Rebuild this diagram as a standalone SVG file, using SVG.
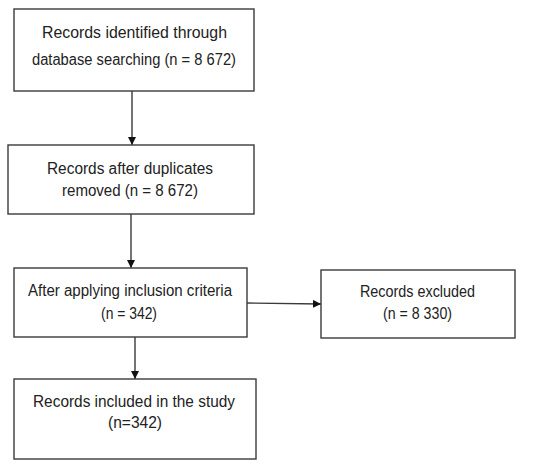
<svg xmlns="http://www.w3.org/2000/svg" width="550" height="468" viewBox="0 0 550 468">
<style>
.box{fill:#fff;stroke:#3a3a3a;stroke-width:1.4}
.t{font-family:"Liberation Sans",Arial,sans-serif;font-size:16px;fill:#222;text-anchor:middle}
.c{stroke:#3a3a3a;stroke-width:1.4;fill:none;marker-end:url(#ah)}
</style>
<defs>
<marker id="ah" viewBox="0 0 10 10" refX="10" refY="5" markerWidth="8" markerHeight="8" markerUnits="userSpaceOnUse" orient="auto">
<path d="M0,0 L10,5 L0,10 Z" fill="#111"/>
</marker>
</defs>
<rect width="550" height="468" fill="#fff"/>
<g id="connectors">
<line class="c" x1="132" y1="91" x2="132" y2="145"/>
<line class="c" x1="131" y1="214" x2="131" y2="268"/>
<line class="c" x1="135" y1="337" x2="135" y2="379"/>
<line class="c" x1="247" y1="303" x2="321" y2="304"/>
</g>
<g id="n1">
<rect class="box" x="14" y="9" width="240" height="82"/>
<text class="t" x="134.5" y="38" textLength="185" lengthAdjust="spacingAndGlyphs">Records identified through</text>
<text class="t" x="134" y="65" textLength="204" lengthAdjust="spacingAndGlyphs">database searching (n = 8 672)</text>
</g>
<g id="n2">
<rect class="box" x="8" y="145" width="246" height="69"/>
<text class="t" x="130" y="174" textLength="166" lengthAdjust="spacingAndGlyphs">Records after duplicates</text>
<text class="t" x="130" y="196" textLength="136" lengthAdjust="spacingAndGlyphs">removed (n = 8 672)</text>
</g>
<g id="n3">
<rect class="box" x="14" y="268" width="233" height="69"/>
<text class="t" x="130" y="296" textLength="204" lengthAdjust="spacingAndGlyphs">After applying inclusion criteria</text>
<text class="t" x="129" y="319" textLength="56" lengthAdjust="spacingAndGlyphs">(n = 342)</text>
</g>
<g id="n4">
<rect class="box" x="321" y="270" width="194" height="68"/>
<text class="t" x="417.5" y="297" textLength="115" lengthAdjust="spacingAndGlyphs">Records excluded</text>
<text class="t" x="417.5" y="319" textLength="69" lengthAdjust="spacingAndGlyphs">(n = 8 330)</text>
</g>
<g id="n5">
<rect class="box" x="14" y="379" width="242" height="80"/>
<text class="t" x="134" y="407" textLength="202" lengthAdjust="spacingAndGlyphs">Records included in the study</text>
<text class="t" x="135" y="428" textLength="54" lengthAdjust="spacingAndGlyphs">(n=342)</text>
</g>
</svg>
